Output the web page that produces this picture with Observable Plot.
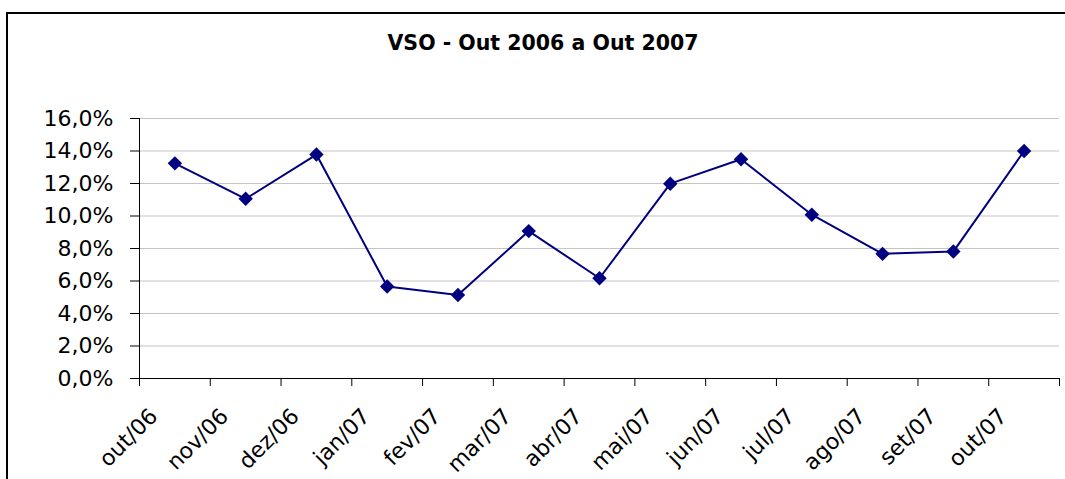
<!DOCTYPE html>
<html><head><meta charset="utf-8">
<script src="https://cdn.jsdelivr.net/npm/d3@7"></script>
<script src="https://cdn.jsdelivr.net/npm/@observablehq/plot@0.6"></script>
<style>
html,body{margin:0;padding:0;background:#fff;overflow:hidden;}
body{width:1065px;height:479px;position:relative;font-family:"DejaVu Sans",sans-serif;}
#frame{position:absolute;left:6px;top:12px;width:1200px;height:600px;border-left:2px solid #000;border-top:2px solid #000;box-sizing:border-box;}
#title{position:absolute;left:0;width:1086px;top:31px;text-align:center;font-weight:bold;font-size:20.5px;line-height:24px;color:#000;}
#chart{position:absolute;left:0;top:80px;}
</style></head><body>
<div id="frame"></div>
<div id="title">VSO - Out 2006 a Out 2007</div>
<div id="chart"></div>
<script>
const months = ["out/06","nov/06","dez/06","jan/07","fev/07","mar/07","abr/07","mai/07","jun/07","jul/07","ago/07","set/07","out/07"];
const values = [13.24, 11.06, 13.78, 5.66, 5.14, 9.07, 6.17, 11.99, 13.49, 10.08, 7.67, 7.81, 14.0];
const yTicks = [0, 2, 4, 6, 8, 10, 12, 14, 16];

const data = months.map((m, i) => ({month: m, idx: i, value: values[i]}));
const boundaries = d3.range(months.length + 1);
const centers = months.map((m, i) => i + 0.5);

const plot = Plot.plot({
  width: 1065, height: 399,
  marginLeft: 139, marginRight: 6, marginTop: 38, marginBottom: 101,
  x: {type: "linear", domain: [0, months.length]},
  y: {domain: [0, 16]},
  style: {fontFamily: "DejaVu Sans", fontSize: "22px", color: "#000", background: "transparent", overflow: "visible"},
  marks: [
    Plot.gridY(yTicks.slice(1), {stroke: "#c4c4c4", strokeOpacity: 1, strokeWidth: 1}),
    Plot.axisY(yTicks, {tickSize: 9, tickPadding: 17, tickFormat: d => d.toFixed(1).replace(".", ",") + "%", fontSize: 22, stroke: "#000", label: null}),
    Plot.axisX(boundaries, {tickSize: 8, tickFormat: () => "", label: null, stroke: "#000"}),
    Plot.axisX(centers, {tickSize: 0, tickRotate: -45, tickPadding: 34, dx: -21, tickFormat: d => months[Math.floor(d)], fontSize: 22, label: null}),
    Plot.ruleX([0], {stroke: "#000"}),
    Plot.ruleY([0], {stroke: "#000"}),
    Plot.line(data, {x: d => d.idx + 0.5, y: "value", stroke: "#000080", strokeWidth: 2}),
    Plot.dot(data, {x: d => d.idx + 0.5, y: "value", symbol: "diamond2", r: 6.5, fill: "#000080", stroke: "none"})
  ]
});
document.getElementById("chart").appendChild(plot);
</script>
</body></html>
